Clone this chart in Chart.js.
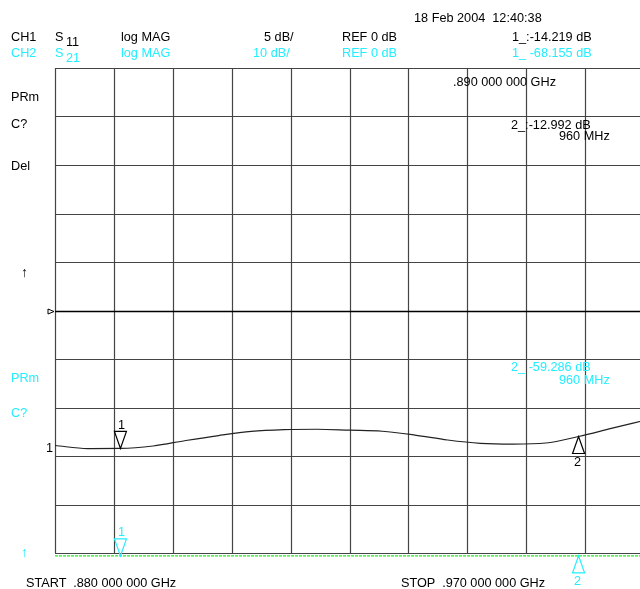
<!DOCTYPE html>
<html>
<head>
<meta charset="utf-8">
<script src="https://cdn.jsdelivr.net/npm/chart.js@4/dist/chart.umd.min.js"></script>
<style>
  html, body { margin: 0; padding: 0; background: #fff; overflow: hidden; width: 640px; height: 589px; }
  #wrap { position: absolute; left: 0; top: 0; width: 650px; height: 589px; }
  .t { position: absolute; font-family: "Liberation Sans", Arial, sans-serif; font-size: 12.7px;
       line-height: 14px; white-space: pre; transform: translateY(-50%); color: #000; }
  .c { color: #22eeff; }
  .arr { font-size: 14px; }
</style>
</head>
<body>
<div id="wrap"><canvas id="chart"></canvas></div>

<div class="t" style="left:414px;top:18px">18 Feb 2004  12:40:38</div>

<div class="t" style="left:11px;top:37px">CH1</div>
<div class="t" style="left:55px;top:37px">S</div>
<div class="t" style="left:66px;top:42px">11</div>
<div class="t" style="left:121px;top:37px">log MAG</div>
<div class="t" style="left:264px;top:37px">5 dB/</div>
<div class="t" style="left:342px;top:37px">REF 0 dB</div>
<div class="t" style="left:512px;top:37px">1_:-14.219 dB</div>

<div class="t c" style="left:11px;top:53px">CH2</div>
<div class="t c" style="left:55px;top:53px">S</div>
<div class="t c" style="left:66px;top:58px">21</div>
<div class="t c" style="left:121px;top:53px">log MAG</div>
<div class="t c" style="left:253px;top:53px">10 dB/</div>
<div class="t c" style="left:342px;top:53px">REF 0 dB</div>
<div class="t c" style="left:512px;top:53px">1_ -68.155 dB</div>

<div class="t" style="left:453px;top:82px">.890 000 000 GHz</div>
<div class="t" style="left:511px;top:125px">2_:-12.992 dB</div>
<div class="t" style="left:559px;top:136px">960 MHz</div>

<div class="t" style="left:11px;top:97px">PRm</div>
<div class="t" style="left:11px;top:124px">C?</div>
<div class="t" style="left:11px;top:166px">Del</div>
<div class="t arr" style="left:21px;top:272px">↑</div>

<div class="t c" style="left:11px;top:378px">PRm</div>
<div class="t c" style="left:11px;top:413px">C?</div>
<div class="t" style="left:46px;top:448px">1</div>
<div class="t c arr" style="left:21px;top:552px">↑</div>

<div class="t c" style="left:511px;top:367px">2_ -59.286 dB</div>
<div class="t c" style="left:559px;top:380px">960 MHz</div>

<div class="t" style="left:118px;top:425px">1</div>
<div class="t" style="left:574px;top:462px">2</div>
<div class="t c" style="left:118px;top:532px">1</div>
<div class="t c" style="left:574px;top:581px">2</div>

<div class="t" style="left:26px;top:583px">START  .880 000 000 GHz</div>
<div class="t" style="left:401px;top:583px">STOP  .970 000 000 GHz</div>

<script>
// sweep frequencies, MHz
const freqs = [880, 885, 890, 895, 900, 905, 910, 915, 920, 925, 930, 935, 940, 945, 950, 955, 960, 965, 970];
// CH1 S11 log MAG, dB
const s11 = [-13.92, -14.23, -14.22, -13.97, -13.40, -12.89, -12.47, -12.29, -12.24, -12.34,
             -12.45, -12.84, -13.35, -13.69, -13.77, -13.66, -12.99, -12.16, -11.34];
// CH2 S21 log MAG, dB (off screen below -50 dB, estimated around the marker readouts)
const s21 = [-70.5, -69.2, -68.16, -67.0, -66.1, -65.0, -64.2, -63.5, -62.9, -62.5,
             -62.0, -61.6, -61.1, -60.7, -60.3, -59.8, -59.29, -58.9, -58.5];
const markerFreqs = [890, 960];

const xTicks = [880, 889, 898, 907, 916, 925, 934, 943, 952, 961, 970];
const yTicks = [25, 20, 15, 10, 5, 0, -5, -10, -15, -20, -25];
const CH2_FLOOR = -50.6; // trace pinned just below the bottom graticule line
const CYAN = '#22eeff';

const gridPlugin = {
  id: 'graticule',
  beforeDatasetsDraw(chart) {
    const { ctx, chartArea: a, scales: { x, y } } = chart;
    ctx.save();
    ctx.lineWidth = 1.2;
    ctx.strokeStyle = '#444';
    xTicks.forEach(v => {
      const px = Math.round(x.getPixelForValue(v)) + 0.5;
      ctx.beginPath(); ctx.moveTo(px, a.top); ctx.lineTo(px, a.bottom); ctx.stroke();
    });
    yTicks.forEach(v => {
      const py = Math.round(y.getPixelForValue(v)) + 0.5;
      ctx.lineWidth = v === 0 ? 1.5 : 1.2;
      ctx.strokeStyle = v === 0 ? '#000' : '#444';
      ctx.beginPath(); ctx.moveTo(a.left, py); ctx.lineTo(a.right, py); ctx.stroke();
    });
    // reference position arrow
    const ry = Math.round(y.getPixelForValue(0)) + 0.5;
    ctx.lineWidth = 1;
    ctx.strokeStyle = '#000';
    ctx.beginPath();
    ctx.moveTo(a.left - 7, ry - 2.5); ctx.lineTo(a.left - 1, ry); ctx.lineTo(a.left - 7, ry + 2.5);
    ctx.closePath(); ctx.stroke();
    ctx.restore();
  },
  afterDatasetsDraw(chart) {
    const { ctx, scales: { x, y, y2 } } = chart;
    ctx.save();
    ctx.lineWidth = 1.2;
    markerFreqs.forEach((f, m) => {
      const i = freqs.indexOf(f);
      const px = x.getPixelForValue(f);
      const p1 = y.getPixelForValue(s11[i]);
      const p2 = y2.getPixelForValue(Math.max(s21[i], CH2_FLOOR));
      [[p1, '#000'], [p2, CYAN]].forEach(([py, col]) => {
        ctx.strokeStyle = col;
        ctx.beginPath();
        if (m === 0) { // pointing down, above the trace
          ctx.moveTo(px - 6, py - 17); ctx.lineTo(px + 6, py - 17); ctx.lineTo(px, py);
        } else {       // pointing up, below the trace
          ctx.moveTo(px - 6, py + 17); ctx.lineTo(px + 6, py + 17); ctx.lineTo(px, py);
        }
        ctx.closePath(); ctx.stroke();
      });
    });
    ctx.restore();
  }
};

new Chart(document.getElementById('chart'), {
  type: 'line',
  data: {
    datasets: [{
      label: 'S11',
      data: freqs.map((f, i) => ({ x: f, y: s11[i] })),
      yAxisID: 'y',
      borderColor: '#222',
      borderWidth: 1.2,
      pointRadius: 0,
      cubicInterpolationMode: 'monotone',
      clip: 2
    }, {
      label: 'S21',
      data: freqs.map((f, i) => ({ x: f, y: Math.max(s21[i], CH2_FLOOR) })),
      yAxisID: 'y2',
      borderColor: '#22ee22',
      borderWidth: 1.2,
      borderDash: [3, 1],
      pointRadius: 0,
      clip: 6
    }]
  },
  options: {
    responsive: true,
    maintainAspectRatio: false,
    animation: false,
    layout: { padding: { left: 55, right: 6, top: 68, bottom: 36 } },
    plugins: { legend: { display: false }, tooltip: { enabled: false } },
    scales: {
      x: { type: 'linear', min: 880, max: 970, display: false },
      y: { min: -25, max: 25, display: false },
      y2: { min: -50, max: 50, display: false }
    }
  },
  plugins: [gridPlugin]
});
</script>
</body>
</html>
